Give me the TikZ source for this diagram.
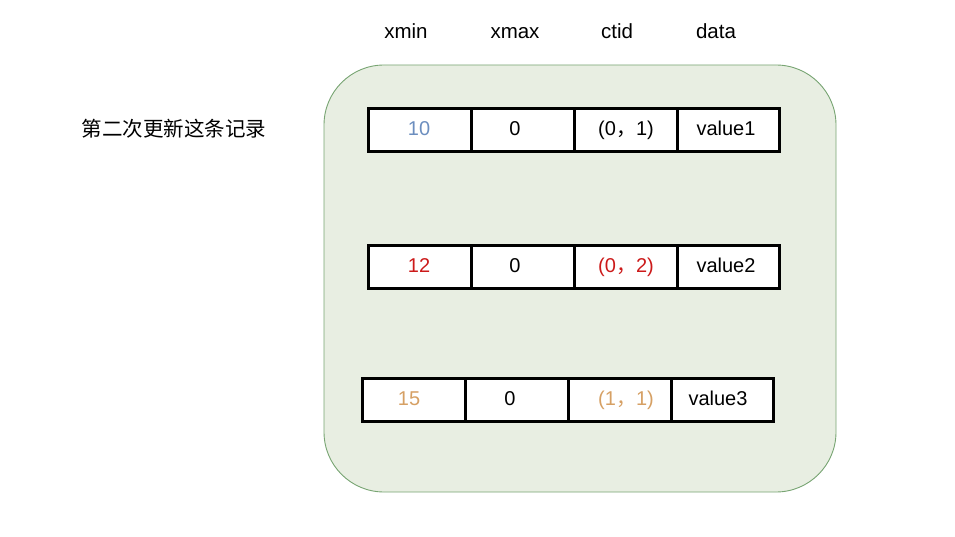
\documentclass[tikz,border=0pt]{standalone}
\usepackage{fontspec}
\setmainfont{Liberation Sans}
\newfontfamily\cjk{Noto Sans CJK SC}
\definecolor{boxfill}{RGB}{232,238,226}
\definecolor{boxline}{RGB}{120,165,115}
\definecolor{cblue}{RGB}{108,142,191}
\definecolor{cred}{RGB}{204,26,26}
\definecolor{corange}{RGB}{214,160,100}
\tikzset{
  cell/.style={draw=black, line width=2.7pt, fill=white, minimum width=103pt, minimum height=43pt, inner sep=0pt, anchor=north west},
  txt/.style={inner sep=0pt, text height=14.6pt, text depth=0pt, font=\fontsize{20}{20}\selectfont},
  head/.style={font=\fontsize{20.5}{20.5}\selectfont, inner sep=0pt, anchor=base},
}
\newcommand{\cm}{{\cjk ，}}
\begin{document}
\begin{tikzpicture}[x=1pt,y=-1pt]
\useasboundingbox (0,0) rectangle (955,537);
\fill[white] (0,0) rectangle (955,537);
\draw[draw=boxline, fill=boxfill, line width=0.9pt, rounded corners=60pt] (324,65) rectangle (836,492);

\node[head] (h1) at (406,39) {xmin};
\node[head] (h2) at (515,39) {xmax};
\node[head] (h3) at (617,39) {ctid};
\node[head] (h4) at (716,39) {data};

\node[font=\cjk\fontsize{20.5}{20.5}\selectfont, inner sep=0pt] (lbl) at (174,129) {第二次更新这条记录};

% row 1
\node[cell] (a1) at (367,107) {};
\node[cell] (a2) at (470,107) {};
\node[cell] (a3) at (573,107) {};
\node[cell, minimum width=102pt] (a4) at (676,107) {};
\node[txt, text=cblue] (ta1) at (419,128.5) {10};
\node[txt] (ta2) at (515,128.5) {0};
\node[txt] (ta3) at (626,128.5) {(0\cm 1)};
\node[txt] (ta4) at (726,128.5) {value1};
% row 2
\node[cell] (b1) at (367,244) {};
\node[cell] (b2) at (470,244) {};
\node[cell] (b3) at (573,244) {};
\node[cell, minimum width=102pt] (b4) at (676,244) {};
\node[txt, text=cred] (tb1) at (419,265.5) {12};
\node[txt] (tb2) at (515,265.5) {0};
\node[txt, text=cred] (tb3) at (626,265.5) {(0\cm 2)};
\node[txt] (tb4) at (726,265.5) {value2};
% row 3
\node[cell] (c1) at (361,377) {};
\node[cell] (c2) at (464,377) {};
\node[cell] (c3) at (567,377) {};
\node[cell, minimum width=102pt] (c4) at (670,377) {};
\node[txt, text=corange] (tc1) at (409,398.5) {15};
\node[txt] (tc2) at (510,398.5) {0};
\node[txt, text=corange] (tc3) at (626,398.5) {(1\cm 1)};
\node[txt] (tc4) at (718,398.5) {value3};
\end{tikzpicture}
\end{document}
